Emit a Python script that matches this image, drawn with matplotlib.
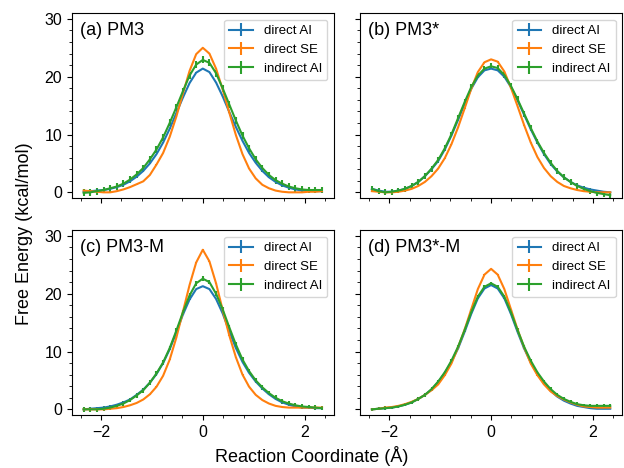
import matplotlib
matplotlib.use("Agg")
import matplotlib.pyplot as plt
from matplotlib.ticker import AutoMinorLocator

plt.rcParams['font.family'] = ['Liberation Sans', 'DejaVu Sans']

x = [-2.34, -2.21, -2.08, -1.95, -1.82, -1.69, -1.56, -1.43, -1.30, -1.17,
     -1.04, -0.91, -0.78, -0.65, -0.52, -0.39, -0.26, -0.13, 0.00, 0.13,
     0.26, 0.39, 0.52, 0.65, 0.78, 0.91, 1.04, 1.17, 1.30, 1.43,
     1.56, 1.69, 1.82, 1.95, 2.08, 2.21, 2.34]

# (a) PM3
a_direct_ai = [0.1, 0.2, 0.3, 0.4, 0.6, 0.9, 1.3, 1.9, 2.7, 3.7, 5.0, 6.6, 8.6, 11.0, 13.7, 16.4, 18.9, 20.7, 21.4,
               20.8, 19.0, 16.6, 13.9, 11.3, 8.9, 6.8, 5.1, 3.7, 2.6, 1.8, 1.2, 0.8, 0.5, 0.3, 0.3, 0.2, 0.2]
a_direct_se = [0.3, 0.2, 0.1, 0.0, 0.0, 0.2, 0.5, 0.9, 1.4, 1.9, 3.0, 4.8, 6.8, 9.6, 13.1, 17.1, 21.0, 23.9, 25.0,
               24.0, 21.4, 17.8, 13.8, 9.9, 6.6, 4.1, 2.4, 1.3, 0.7, 0.3, 0.1, 0.0, 0.0, 0.0, 0.1, 0.1, 0.2]
a_indirect_ai = [-0.1, 0.0, 0.2, 0.4, 0.7, 1.0, 1.5, 2.2, 3.1, 4.2, 5.7, 7.4, 9.5, 12.0, 14.7, 17.5, 20.2, 22.1, 22.9,
                 22.4, 20.6, 18.0, 15.2, 12.4, 9.8, 7.6, 5.7, 4.2, 3.0, 2.1, 1.5, 1.0, 0.7, 0.5, 0.4, 0.4, 0.4]

# (b) PM3*
b_direct_ai = [0.6, 0.3, 0.1, 0.1, 0.3, 0.6, 1.1, 1.8, 2.8, 4.0, 5.4, 7.4, 9.8, 12.5, 15.3, 17.9, 19.9, 21.1, 21.4,
               21.1, 20.0, 18.2, 15.9, 13.4, 10.9, 8.6, 6.6, 4.9, 3.6, 2.6, 1.8, 1.2, 0.8, 0.5, 0.3, 0.1, 0.0]
b_direct_se = [0.2, 0.1, 0.0, 0.0, 0.1, 0.3, 0.6, 1.1, 1.8, 2.8, 4.1, 5.9, 8.3, 11.2, 14.5, 17.9, 20.8, 22.5, 23.0,
               22.6, 20.9, 18.1, 14.9, 11.6, 8.6, 6.1, 4.2, 2.8, 1.8, 1.1, 0.7, 0.4, 0.2, 0.1, 0.0, 0.0, 0.0]
b_indirect_ai = [0.6, 0.2, 0.0, 0.1, 0.3, 0.6, 1.1, 1.8, 2.8, 4.1, 5.6, 7.6, 10.0, 12.8, 15.6, 18.2, 20.2, 21.4, 21.8,
                 21.5, 20.3, 18.4, 16.1, 13.6, 11.1, 8.8, 6.8, 5.1, 3.7, 2.6, 1.8, 1.1, 0.6, 0.2, -0.1, -0.3, -0.5]

# (c) PM3-M
c_direct_ai = [0.0, 0.1, 0.2, 0.3, 0.5, 0.8, 1.2, 1.7, 2.5, 3.4, 4.6, 6.1, 8.0, 10.4, 13.3, 16.4, 19.0, 20.8, 21.3,
               20.8, 19.1, 16.6, 13.5, 10.6, 8.2, 6.3, 4.8, 3.6, 2.6, 1.8, 1.2, 0.8, 0.5, 0.3, 0.3, 0.2, 0.2]
c_direct_se = [0.0, 0.0, 0.0, 0.0, 0.1, 0.2, 0.4, 0.7, 1.1, 1.7, 2.6, 3.9, 5.8, 8.6, 12.4, 16.9, 21.5, 25.4, 27.6,
               25.6, 21.8, 17.2, 12.8, 9.0, 6.0, 3.9, 2.5, 1.6, 1.0, 0.6, 0.4, 0.3, 0.3, 0.3, 0.3, 0.3, 0.3]
c_indirect_ai = [0.0, 0.0, 0.0, 0.1, 0.3, 0.6, 1.0, 1.6, 2.4, 3.3, 4.6, 6.2, 8.1, 10.6, 13.6, 16.8, 19.7, 21.8, 22.6,
                 22.0, 20.0, 17.3, 14.2, 11.2, 8.6, 6.6, 5.0, 3.8, 2.8, 2.0, 1.4, 1.0, 0.7, 0.5, 0.4, 0.3, 0.2]

# (d) PM3*-M
d_direct_ai = [0.0, 0.1, 0.2, 0.3, 0.5, 0.8, 1.2, 1.8, 2.5, 3.4, 4.7, 6.3, 8.2, 10.5, 13.4, 16.5, 19.2, 20.9, 21.5,
               20.9, 19.2, 16.5, 13.4, 10.5, 8.1, 6.1, 4.5, 3.2, 2.2, 1.5, 1.0, 0.6, 0.4, 0.2, 0.1, 0.1, 0.1]
d_direct_se = [0.0, 0.1, 0.3, 0.4, 0.6, 0.9, 1.3, 1.8, 2.5, 3.3, 4.3, 5.9, 7.9, 10.7, 13.8, 17.3, 20.8, 23.3, 24.3,
               23.3, 20.8, 17.3, 13.8, 10.7, 7.9, 5.9, 4.3, 3.1, 2.3, 1.7, 1.2, 0.8, 0.5, 0.4, 0.3, 0.3, 0.3]
d_indirect_ai = [0.0, 0.1, 0.2, 0.3, 0.5, 0.8, 1.2, 1.8, 2.5, 3.5, 4.8, 6.4, 8.4, 10.8, 13.7, 16.8, 19.5, 21.2, 21.8,
                 21.2, 19.5, 16.8, 13.7, 10.8, 8.4, 6.4, 4.8, 3.5, 2.5, 1.8, 1.3, 0.9, 0.7, 0.6, 0.6, 0.6, 0.6]

titles = ['(a) PM3', '(b) PM3*', '(c) PM3-M', '(d) PM3*-M']
series = [(a_direct_ai, a_direct_se, a_indirect_ai),
          (b_direct_ai, b_direct_se, b_indirect_ai),
          (c_direct_ai, c_direct_se, c_indirect_ai),
          (d_direct_ai, d_direct_se, d_indirect_ai)]
indirect_err = [0.6, 0.5, 0.4, 0.3]
direct_err = 0.05

fig, axes = plt.subplots(2, 2, sharex=True, sharey=True, figsize=(6.24, 4.68), dpi=100)
fig.subplots_adjust(left=0.115, right=0.997, top=0.972, bottom=0.113, wspace=0.1, hspace=0.173)

for ax, title, (dai, dse, iai), ierr in zip(axes.flat, titles, series, indirect_err):
    ax.errorbar(x, dai, yerr=direct_err, color='C0', label='direct AI')
    ax.errorbar(x, dse, yerr=direct_err, color='C1', label='direct SE')
    ax.errorbar(x, iai, yerr=ierr, color='C2', label='indirect AI')
    ax.text(0.03, 0.95, title, transform=ax.transAxes, va='top', ha='left', fontsize=13)
    ax.legend(loc='upper right', fontsize=9.5, handlelength=1.8)
    ax.set_ylim(-1, 31)
    ax.set_yticks([0, 10, 20, 30])
    ax.set_xticks([-2, 0, 2])
    ax.xaxis.set_minor_locator(AutoMinorLocator(5))
    ax.yaxis.set_minor_locator(AutoMinorLocator(5))
    ax.tick_params(labelsize=11.5)

fig.supxlabel('Reaction Coordinate (Å)', fontsize=13, y=0.005)
fig.supylabel('Free Energy (kcal/mol)', fontsize=13, x=0.025)

fig.savefig('out.png', dpi=100)
